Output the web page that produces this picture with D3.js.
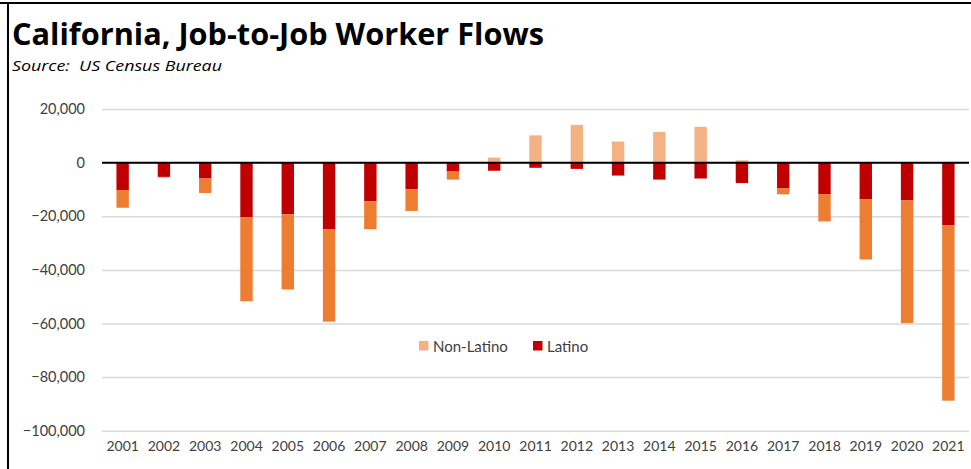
<!DOCTYPE html>
<html>
<head>
<meta charset="utf-8">
<script src="https://cdn.jsdelivr.net/npm/d3@7"></script>
<style>
  html, body { margin: 0; padding: 0; background: #fff; }
  svg { display: block; }
</style>
</head>
<body>
<script>
// Job-to-job worker flows in California, split by Latino / Non-Latino workers
const years = ["2001","2002","2003","2004","2005","2006","2007","2008","2009","2010","2011",
               "2012","2013","2014","2015","2016","2017","2018","2019","2020","2021"];
const latino = [-10200, -5300, -5900, -20400, -19200, -24900, -14400, -9900, -3300, -3000, -1900,
                -2300, -4800, -6300, -5900, -7600, -9600, -11700, -13700, -14100, -23400];
const nonLatino = [-6600, -200, -5400, -31300, -28100, -34400, -10400, -8100, -3000, 1900, 10200,
                   14100, 7900, 11500, 13400, 900, -2200, -10200, -22400, -45700, -65400];
const yTicks = [20000, 0, -20000, -40000, -60000, -80000, -100000];
const seriesNames = ["Non-Latino", "Latino"];

const W = 971, H = 469;
const colors = { latino: "#C00000", nonPos: "#F4B183", nonNeg: "#ED7D31" };

const svg = d3.select("body").append("svg").attr("width", W).attr("height", H);

// frame lines along the top and left edge
svg.append("line").attr("x1", 0).attr("x2", W).attr("y1", 3).attr("y2", 3)
  .attr("stroke", "#000").attr("stroke-width", 2);
svg.append("line").attr("x1", 8).attr("x2", 8).attr("y1", 2).attr("y2", H)
  .attr("stroke", "#000").attr("stroke-width", 2);

// title + source
svg.append("text").attr("x", 12).attr("y", 45)
  .attr("font-family", "'Open Sans', Lato, sans-serif").attr("font-weight", 700)
  .attr("font-size", 30).attr("fill", "#000")
  .attr("textLength", 532).attr("lengthAdjust", "spacingAndGlyphs")
  .text("California, Job-to-Job Worker Flows");
svg.append("text").attr("x", 12).attr("y", 71)
  .attr("font-family", "'Open Sans', sans-serif").attr("font-style", "italic")
  .attr("font-size", 14.5).attr("fill", "#000")
  .style("white-space", "pre")
  .attr("textLength", 210).attr("lengthAdjust", "spacingAndGlyphs")
  .text("Source:  US Census Bureau");

const x = d3.scaleBand().domain(years).range([102, 969]).paddingInner(0.7).paddingOuter(0.35);
const y = d3.scaleLinear().domain([-100000, 20000]).range([430.7, 109.1]);

// gridlines + y labels
const yAxis = d3.axisLeft(y).tickValues(yTicks).tickSize(-(969 - 102)).tickPadding(17)
  .tickFormat(d3.format(","));
const gy = svg.append("g").attr("transform", "translate(102,0)").call(yAxis);
gy.select(".domain").remove();
gy.selectAll(".tick line").attr("stroke", "#d9d9d9").attr("stroke-width", 1.5);
gy.selectAll(".tick text").attr("font-family", "Lato, 'Open Sans', sans-serif")
  .attr("font-size", 14.5).attr("fill", "#404040");

// stacked bars, Latino nearest the zero line
const rows = years.map((yr, i) => ({ year: yr, Latino: latino[i], "Non-Latino": nonLatino[i] }));
const stack = d3.stack().keys(["Latino", "Non-Latino"]).offset(d3.stackOffsetDiverging);
const layers = stack(rows);

svg.append("g").selectAll("g").data(layers).join("g")
  .each(function (layer) {
    d3.select(this).selectAll("rect").data(layer).join("rect")
      .attr("x", d => x(d.data.year))
      .attr("width", x.bandwidth())
      .attr("y", d => y(Math.max(d[0], d[1])))
      .attr("height", d => Math.abs(y(d[0]) - y(d[1])))
      .attr("fill", d => layer.key === "Latino" ? colors.latino
        : (d.data["Non-Latino"] >= 0 ? colors.nonPos : colors.nonNeg));
  });

// zero line
svg.append("line").attr("x1", 102).attr("x2", 969).attr("y1", y(0)).attr("y2", y(0))
  .attr("stroke", "#000").attr("stroke-width", 2);

// x labels
const xAxis = d3.axisBottom(x).tickSize(0).tickPadding(0);
const gx = svg.append("g").attr("transform", "translate(0,441)").call(xAxis);
gx.select(".domain").remove();
gx.selectAll(".tick text").attr("font-family", "Lato, 'Open Sans', sans-serif")
  .attr("font-size", 14).attr("fill", "#404040").attr("dy", "0.71em");

// legend
const legend = svg.append("g").attr("transform", "translate(419,341)");
const legendColors = [colors.nonPos, colors.latino];
const legendX = [0, 114];
seriesNames.forEach((name, i) => {
  const g = legend.append("g").attr("transform", `translate(${legendX[i]},0)`);
  g.append("rect").attr("width", 9.5).attr("height", 9.5).attr("fill", legendColors[i]);
  g.append("text").attr("x", 14).attr("y", 10.5)
    .attr("font-family", "Lato, 'Open Sans', sans-serif").attr("font-size", 15)
    .attr("fill", "#404040").text(name);
});
</script>
</body>
</html>
